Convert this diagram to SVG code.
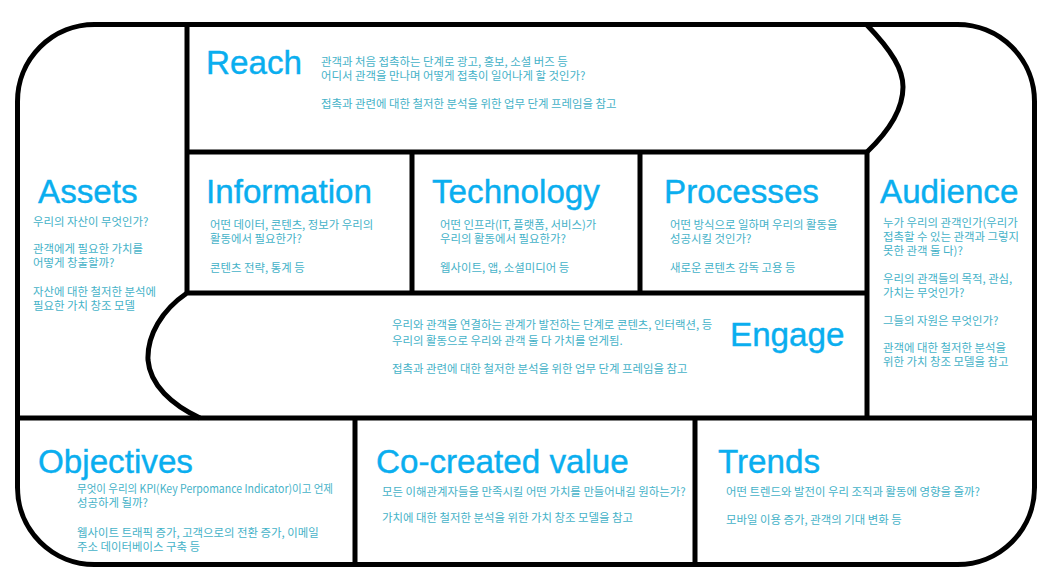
<svg xmlns="http://www.w3.org/2000/svg" width="1057" height="586" viewBox="0 0 1057 586">
<style>
.ln{fill:none;stroke:#000;stroke-width:5;stroke-linejoin:round}
.t{font-family:"Liberation Sans",Arial,sans-serif;font-size:33.2px;fill:#0aaeef;stroke:#0aaeef;stroke-width:0.4}
.b{font-family:"Noto Sans CJK KR","Liberation Sans",sans-serif;font-size:11.4px;fill:#45b2c8}
</style>
<rect width="1057" height="586" fill="#fff"/>
<g id="connectors">
<rect class="ln" x="17.5" y="24.5" width="1017" height="540" rx="77" ry="77"/>
<line class="ln" x1="187" y1="24" x2="187" y2="294"/>
<line class="ln" x1="187" y1="152" x2="867" y2="152"/>
<path class="ln" d="M866,24 C893,52 903,70 903,87 C903,110 888,132 867,152"/>
<line class="ln" x1="867" y1="152" x2="867" y2="418"/>
<line class="ln" x1="412" y1="152" x2="412" y2="293"/>
<line class="ln" x1="640" y1="152" x2="640" y2="293"/>
<path class="ln" d="M867,293 L187,293 C162,310 147,335 148,360 C150,385 172,405 200,418"/>
<line class="ln" x1="17" y1="418" x2="1035" y2="418"/>
<line class="ln" x1="355" y1="418" x2="355" y2="565"/>
<line class="ln" x1="695" y1="418" x2="695" y2="565"/>
</g>
<g id="reach">
<text class="t" x="206" y="74">Reach</text>
<text class="b" x="321" y="66">관객과 처음 접촉하는 단계로 광고, 홍보, 소셜 버즈 등</text>
<text class="b" x="321" y="80">어디서 관객을 만나며 어떻게 접촉이 일어나게 할 것인가?</text>
<text class="b" x="321" y="108">접촉과 관련에 대한 철저한 분석을 위한 업무 단계 프레임을 참고</text>
</g>
<g id="assets">
<text class="t" x="38" y="203">Assets</text>
<text class="b" x="33" y="226">우리의 자산이 무엇인가?</text>
<text class="b" x="33" y="253">관객에게 필요한 가치를</text>
<text class="b" x="33" y="267">어떻게 창출할까?</text>
<text class="b" x="33" y="296">자산에 대한 철저한 분석에</text>
<text class="b" x="33" y="310">필요한 가치 창조 모델</text>
</g>
<g id="information">
<text class="t" x="206" y="203">Information</text>
<text class="b" x="210" y="229">어떤 데이터, 콘텐츠, 정보가 우리의</text>
<text class="b" x="210" y="243">활동에서 필요한가?</text>
<text class="b" x="210" y="272">콘텐츠 전략, 통계 등</text>
</g>
<g id="technology">
<text class="t" x="432" y="203">Technology</text>
<text class="b" x="440" y="229">어떤 인프라(IT, 플랫폼, 서비스)가</text>
<text class="b" x="440" y="243">우리의 활동에서 필요한가?</text>
<text class="b" x="440" y="272">웹사이트, 앱, 소셜미디어 등</text>
</g>
<g id="processes">
<text class="t" x="664" y="203">Processes</text>
<text class="b" x="670" y="229">어떤 방식으로 일하며 우리의 활동을</text>
<text class="b" x="670" y="243">성공시킬 것인가?</text>
<text class="b" x="670" y="272">새로운 콘텐츠 감독 고용 등</text>
</g>
<g id="audience">
<text class="t" x="880" y="203">Audience</text>
<text class="b" x="883" y="227">누가 우리의 관객인가(우리가</text>
<text class="b" x="883" y="241">접촉할 수 있는 관객과 그렇지</text>
<text class="b" x="883" y="255">못한 관객 둘 다)?</text>
<text class="b" x="883" y="283">우리의 관객들의 목적, 관심,</text>
<text class="b" x="883" y="297">가치는 무엇인가?</text>
<text class="b" x="883" y="325">그들의 자원은 무엇인가?</text>
<text class="b" x="883" y="352">관객에 대한 철저한 분석을</text>
<text class="b" x="883" y="366">위한 가치 창조 모델을 참고</text>
</g>
<g id="engage">
<text class="t" x="730" y="346">Engage</text>
<text class="b" x="392" y="329">우리와 관객을 연결하는 관계가 발전하는 단계로 콘텐츠, 인터랙션, 등</text>
<text class="b" x="392" y="345">우리의 활동으로 우리와 관객 둘 다 가치를 얻게됨.</text>
<text class="b" x="392" y="373">접촉과 관련에 대한 철저한 분석을 위한 업무 단계 프레임을 참고</text>
</g>
<g id="objectives">
<text class="t" x="38" y="473">Objectives</text>
<text class="b" x="77" y="493" textLength="256" lengthAdjust="spacingAndGlyphs">무엇이 우리의 KPI(Key Perpomance Indicator)이고 언제</text>
<text class="b" x="77" y="507">성공하게 될까?</text>
<text class="b" x="77" y="537">웹사이트 트래픽 증가, 고객으로의 전환 증가, 이메일</text>
<text class="b" x="77" y="551">주소 데이터베이스 구축 등</text>
</g>
<g id="cocreated">
<text class="t" x="376" y="473">Co-created value</text>
<text class="b" x="382" y="496">모든 이해관계자들을 만족시킬 어떤 가치를 만들어내길 원하는가?</text>
<text class="b" x="382" y="522">가치에 대한 철저한 분석을 위한 가치 창조 모델을 참고</text>
</g>
<g id="trends">
<text class="t" x="718" y="473">Trends</text>
<text class="b" x="726" y="496">어떤 트렌드와 발전이 우리 조직과 활동에 영향을 줄까?</text>
<text class="b" x="726" y="524">모바일 이용 증가, 관객의 기대 변화 등</text>
</g>
</svg>
